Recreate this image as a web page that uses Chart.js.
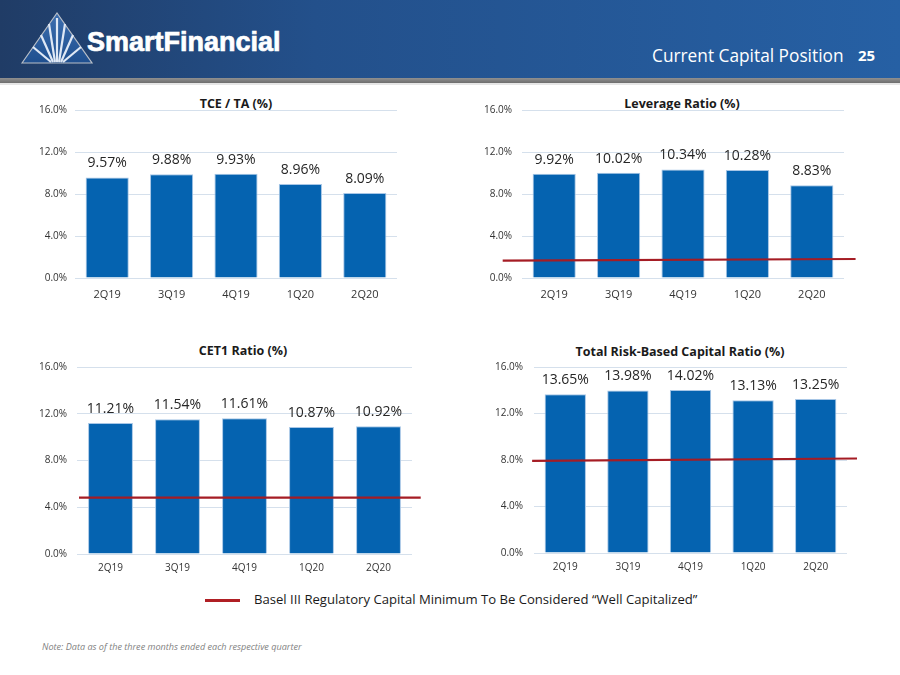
<!DOCTYPE html>
<html><head><meta charset="utf-8">
<script src="https://cdn.jsdelivr.net/npm/chart.js@4.4.1/dist/chart.umd.min.js"></script>
<style>
body{margin:0;width:900px;height:675px;position:relative;background:#fff;font-family:'Open Sans',sans-serif;overflow:hidden}
.abs{position:absolute}
#hdr{left:0;top:0;width:900px;height:78px;background:linear-gradient(to right,#203c66 0%,#23508b 35%,#2660a4 100%)}
#band{left:0;top:78px;width:900px;height:5px;background:linear-gradient(#909090,#6e6e6e)}
#band2{left:0;top:83px;width:900px;height:2px;background:#e6e6e6}
#logoTxt{left:87px;top:27px;font-family:'Liberation Sans',Arial,sans-serif;font-weight:bold;font-size:27px;line-height:31px;color:#fff;-webkit-text-stroke:0.7px #fff}
#pgTitle{left:652px;top:44px;font-size:17.3px;color:#fff;white-space:nowrap}
#pgNum{left:858px;top:45px;font-size:15px;font-weight:bold;color:#fff}
.ttl{font-size:12.5px;font-weight:bold;color:#1a1a1a;white-space:nowrap;transform:translate(-50%,-50%)}
canvas{position:absolute}
#legLine{left:205px;top:599px;width:35px;height:2.5px;background:#b01f24}
#legTxt{left:254px;top:590px;font-size:13.1px;color:#1a1a1a;white-space:nowrap}
#note{left:42px;top:640px;font-size:9.1px;font-style:italic;color:#7f7f7f;white-space:nowrap}
</style></head>
<body>
<div id="hdr" class="abs"></div>
<div id="band" class="abs"></div>
<div id="band2" class="abs"></div>
<svg class="abs" style="left:0;top:0" width="100" height="78">
<defs><linearGradient id="tg" x1="0" y1="0" x2="0" y2="1"><stop offset="0" stop-color="#3d6fb0"/><stop offset="1" stop-color="#1f4f8f"/></linearGradient></defs>
<polygon points="22,63 57,13 92,63" fill="url(#tg)" stroke="#b9bfc8" stroke-width="1.2"/>
<g stroke="#dfe8f5" stroke-width="2.2" fill="none">
<line x1="57" y1="62" x2="57" y2="18"/>
<line x1="55" y1="62" x2="49" y2="24"/>
<line x1="59" y1="62" x2="65" y2="24"/>
<line x1="53" y1="62" x2="41" y2="35"/>
<line x1="61" y1="62" x2="73" y2="35"/>
<line x1="51" y1="62" x2="33" y2="47"/>
<line x1="63" y1="62" x2="81" y2="47"/>
</g>
</svg>
<div id="logoTxt" class="abs">SmartFinancial</div>
<div id="pgTitle" class="abs">Current Capital Position</div>
<div id="pgNum" class="abs">25</div>

<div class="abs ttl" style="left:236px;top:103px">TCE / TA (%)</div>
<div class="abs ttl" style="left:682px;top:103px">Leverage Ratio (%)</div>
<div class="abs ttl" style="left:243px;top:350px">CET1 Ratio (%)</div>
<div class="abs ttl" style="left:680px;top:351px">Total Risk-Based Capital Ratio (%)</div>

<canvas id="c1" width="400" height="210" style="left:20px;top:98px"></canvas>
<canvas id="c2" width="420" height="210" style="left:470px;top:98px"></canvas>
<canvas id="c3" width="420" height="230" style="left:20px;top:355px"></canvas>
<canvas id="c4" width="420" height="230" style="left:470px;top:355px"></canvas>

<div id="legLine" class="abs"></div>
<div id="legTxt" class="abs">Basel III Regulatory Capital Minimum To Be Considered “Well Capitalized”</div>
<div id="note" class="abs">Note: Data as of the three months ended each respective quarter</div>

<script>
const categories = ['2Q19', '3Q19', '4Q19', '1Q20', '2Q20'];
const yTicks = [0, 4, 8, 12, 16];
const tceValues = [9.57, 9.88, 9.93, 8.96, 8.09];
const leverageValues = [9.92, 10.02, 10.34, 10.28, 8.83];
const cet1Values = [11.21, 11.54, 11.61, 10.87, 10.92];
const trbcValues = [13.65, 13.98, 14.02, 13.13, 13.25];
// regulatory minimum lines: x in category-index units (-0.5 .. 4.5 spans the plot), y in %
const leverageMinX = [-0.80, 4.68];
const leverageMinY = [1.65, 1.81];
const cet1MinX = [-0.47, 4.63];
const cet1MinY = [4.82, 4.82];
const trbcMinX = [-0.53, 4.66];
const trbcMinY = [7.92, 8.13];

const BAR = '#0563b0';
const RED = '#a51c24';
const GRID = '#d5e0ec';

const valueLabels = {
  id: 'valueLabels',
  afterDatasetsDraw(chart) {
    const meta = chart.getDatasetMeta(0);
    const data = chart.data.datasets[0].data;
    const ctx = chart.ctx;
    ctx.save();
    ctx.font = '14px "Open Sans"';
    ctx.fillStyle = '#262626';
    ctx.textAlign = 'center';
    ctx.textBaseline = 'middle';
    meta.data.forEach((bar, i) => {
      ctx.fillText(data[i].toFixed(2) + '%', bar.x, bar.y - 14);
    });
    ctx.restore();
  }
};

const minLine = {
  id: 'minLine',
  afterDatasetsDraw(chart, args, opts) {
    if (!opts.xs) return;
    const xs = chart.scales.x, ys = chart.scales.y;
    const ctx = chart.ctx;
    ctx.save();
    ctx.strokeStyle = RED;
    ctx.lineWidth = 2.2;
    ctx.beginPath();
    opts.xs.forEach((xv, i) => {
      const px = xs.getPixelForValue(xv);
      const py = ys.getPixelForValue(opts.ys[i]);
      if (i === 0) ctx.moveTo(px, py); else ctx.lineTo(px, py);
    });
    ctx.stroke();
    ctx.restore();
  }
};

function makeChart(id, values, lineX, lineY, g) {
  return new Chart(document.getElementById(id), {
    type: 'bar',
    data: {labels: categories, datasets: [{
      data: values,
      backgroundColor: BAR, borderColor: '#a7c6e6', borderWidth: 1,
      barPercentage: g.bp, categoryPercentage: 1.0
    }]},
    options: {
      responsive: false, animation: false,
      layout: {padding: {top: 12, right: g.pr, left: 0, bottom: 0}},
      plugins: {legend: {display: false}, tooltip: {enabled: false}, title: {display: false},
                minLine: {xs: lineX, ys: lineY}},
      scales: {
        x: {
          type: 'category', offset: true,
          grid: {display: false, drawTicks: false},
          border: {display: false},
          ticks: {color: '#333', font: {family: 'Open Sans', size: g.xf}, padding: g.xpad, maxRotation: 0},
          afterFit: s => { s.height = g.xh; }
        },
        y: {
          min: 0, max: 16,
          afterBuildTicks: s => { s.ticks = yTicks.map(v => ({value: v})); },
          grid: {color: GRID, lineWidth: 1, drawTicks: false},
          border: {display: false},
          ticks: {color: '#333', font: {family: 'Open Sans', size: 10}, padding: g.ypad,
                  callback: v => v.toFixed(1) + '%'},
          afterFit: s => { s.width = g.yw; s.paddingTop = 0; s.paddingBottom = 0; }
        }
      }
    },
    plugins: [minLine, valueLabels]
  });
}

makeChart('c1', tceValues, null, null, {bp: 0.67, xf: 11, xpad: 10, xh: 30, ypad: 8, yw: 55, pr: 23});
makeChart('c2', leverageValues, leverageMinX, leverageMinY, {bp: 0.67, xf: 11, xpad: 10, xh: 30, ypad: 10, yw: 52, pr: 46});
makeChart('c3', cet1Values, cet1MinX, cet1MinY, {bp: 0.67, xf: 10, xpad: 8, xh: 31, ypad: 10, yw: 57, pr: 28});
makeChart('c4', trbcValues, trbcMinX, trbcMinY, {bp: 0.66, xf: 10, xpad: 8, xh: 32, ypad: 11, yw: 64, pr: 43});
</script>
</body></html>
